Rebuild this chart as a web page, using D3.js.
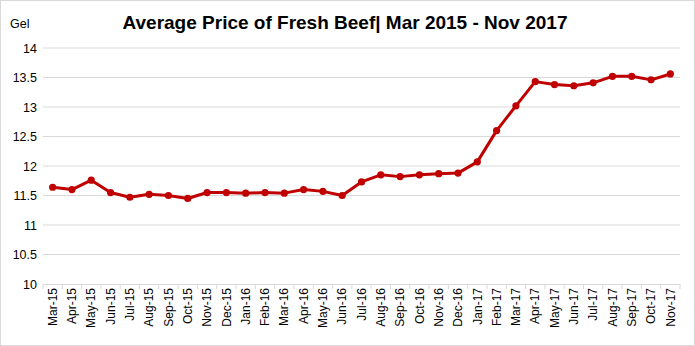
<!DOCTYPE html>
<html><head><meta charset="utf-8">
<script src="https://cdn.jsdelivr.net/npm/d3@7"></script>
<style>body{margin:0;background:#fff}svg{display:block}</style>
</head><body>
<script>
const categories = ["Mar-15","Apr-15","May-15","Jun-15","Jul-15","Aug-15","Sep-15","Oct-15","Nov-15","Dec-15","Jan-16","Feb-16","Mar-16","Apr-16","May-16","Jun-16","Jul-16","Aug-16","Sep-16","Oct-16","Nov-16","Dec-16","Jan-17","Feb-17","Mar-17","Apr-17","May-17","Jun-17","Jul-17","Aug-17","Sep-17","Oct-17","Nov-17"];
const prices = [11.64,11.60,11.76,11.55,11.47,11.52,11.50,11.45,11.55,11.55,11.54,11.55,11.54,11.60,11.57,11.50,11.73,11.85,11.82,11.85,11.87,11.88,12.07,12.60,13.02,13.43,13.38,13.36,13.41,13.52,13.52,13.46,13.56];
const yTicks = [10,10.5,11,11.5,12,12.5,13,13.5,14];
const titleText = "Average Price of Fresh Beef| Mar 2015 - Nov 2017";
const unitLabel = "Gel";

(function(){
const W = 695, H = 346;
const svg = d3.select("body").append("svg").attr("width", W).attr("height", H);
svg.append("rect").attr("x",0.5).attr("y",0.5).attr("width",W-1).attr("height",H-1)
  .attr("fill","#fff").attr("stroke","#d9d9d9");

const mLeft = 43, mRight = 680, mTop = 48, mBottom = 284;
const x = d3.scaleBand().domain(categories).range([mLeft, mRight]);
const y = d3.scaleLinear().domain([10,14]).range([mBottom, mTop]);
const font = "'Liberation Sans', Arial, sans-serif";

svg.append("g").selectAll("line").data(yTicks.filter(t=>t>10)).join("line")
  .attr("x1", mLeft).attr("x2", mRight)
  .attr("y1", d=>y(d)).attr("y2", d=>y(d))
  .attr("stroke","#d9d9d9").attr("stroke-width",1);

const yAxis = svg.append("g").attr("transform",`translate(${mLeft},0)`)
  .call(d3.axisLeft(y).tickValues(yTicks).tickSize(0).tickPadding(6).tickFormat(d=>d3.format("")(d)));
yAxis.select(".domain").remove();
yAxis.selectAll("text").attr("font-family",font).attr("font-size",12.5).attr("fill","#000");

const xAxis = svg.append("g").attr("transform",`translate(0,${mBottom})`)
  .call(d3.axisBottom(x).tickSize(0).tickPadding(0));
xAxis.select(".domain").attr("stroke","#d9d9d9");
xAxis.selectAll("text").attr("font-family",font).attr("font-size",12).attr("fill","#000")
  .attr("text-anchor","end").attr("dy","0.35em")
  .attr("transform","translate(0,4) rotate(-90)");
const bounds = categories.map(c=>x(c)).concat([mRight]);
svg.append("g").selectAll("line").data(bounds).join("line")
  .attr("x1",d=>d).attr("x2",d=>d).attr("y1",mBottom).attr("y2",mBottom+5)
  .attr("stroke","#d9d9d9");

const cx = d => x(d) + x.bandwidth()/2;
const line = d3.line().x((d,i)=>cx(categories[i])).y(d=>y(d));
svg.append("path").datum(prices).attr("d",line).attr("fill","none")
  .attr("stroke","#C00000").attr("stroke-width",3).attr("stroke-linejoin","round");
svg.append("g").selectAll("circle").data(prices).join("circle")
  .attr("cx",(d,i)=>cx(categories[i])).attr("cy",d=>y(d)).attr("r",3.6).attr("fill","#C00000");

svg.append("text").attr("x",345).attr("y",29).attr("text-anchor","middle")
  .attr("font-family",font).attr("font-weight","bold").attr("font-size",19).text(titleText);
svg.append("text").attr("x",10).attr("y",28).attr("font-family",font).attr("font-size",12.5).text(unitLabel);
})();
</script>
</body></html>
